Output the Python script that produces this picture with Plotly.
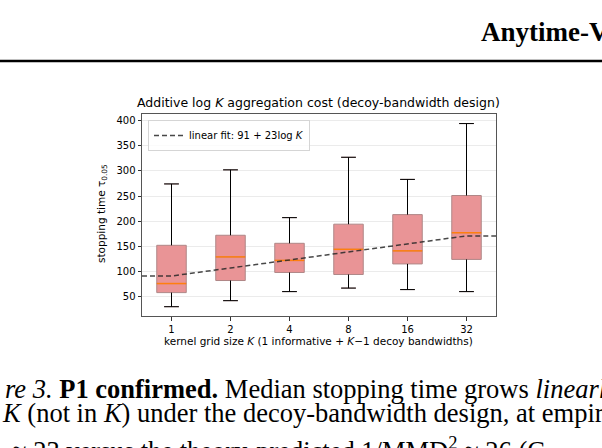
import numpy as np
import plotly.graph_objects as go

# kernel grid sizes and box stats
K = [1, 2, 4, 8, 16, 32]
whisker_lo = [30, 42, 60, 67, 64, 60]
q1 = [58, 82, 98, 94, 115, 124]
median = [76, 129, 122, 144, 141, 177]
q3 = [152, 172, 156, 194, 213, 251]
whisker_hi = [274, 302, 207, 327, 283, 394]

# linear fit in log K
fit_a = 91
fit_b = 23

pos = np.arange(len(K))

# pixel helpers (plot area 142..496 x 114..316)
L, R, T, B = 142, 106, 114, 132
W, H = 602, 448
pw, ph = W - L - R, H - T - B
def px(x):
    return (x - L) / pw
def py(y):
    return (H - B - y) / ph

fig = go.Figure()

fig.add_trace(go.Box(
    x=pos, q1=q1, median=median, q3=q3,
    lowerfence=whisker_lo, upperfence=whisker_hi,
    width=0.5, whiskerwidth=0.5,
    fillcolor="rgb(233,148,150)",
    line=dict(color="rgb(175,135,135)", width=1),
    boxpoints=False, showlegend=False, hoverinfo="skip",
))

# black whiskers + caps
wx, wy = [], []
for i in range(len(K)):
    wx += [pos[i], pos[i], None, pos[i], pos[i], None]
    wy += [q3[i], whisker_hi[i], None, q1[i], whisker_lo[i], None]
    wx += [pos[i] - 0.125, pos[i] + 0.125, None, pos[i] - 0.125, pos[i] + 0.125, None]
    wy += [whisker_hi[i], whisker_hi[i], None, whisker_lo[i], whisker_lo[i], None]
fig.add_trace(go.Scatter(x=wx, y=wy, mode="lines", line=dict(color="black", width=1),
                         showlegend=False, hoverinfo="skip"))

# orange medians
mx, my = [], []
for i in range(len(K)):
    mx += [pos[i] - 0.25, pos[i] + 0.25, None]
    my += [median[i], median[i], None]
fig.add_trace(go.Scatter(x=mx, y=my, mode="lines", line=dict(color="#ff7f0e", width=1.5),
                         showlegend=False, hoverinfo="skip"))

# fit line, held flat past the first and last K
K_ext = [K[0]] + K + [K[-1]]
x_fit = [pos[0] - 0.5] + list(pos) + [pos[-1] + 0.5]
y_fit = [fit_a + fit_b * np.log(k) for k in K_ext]
fig.add_trace(go.Scatter(x=x_fit, y=y_fit, mode="lines",
                         line=dict(color="rgba(40,40,40,0.85)", width=1.5, dash="5px,3px"),
                         name="linear fit: 91 + 23log <i>K</i>"))

font = "DejaVu Sans"
serif = "Liberation Serif"

fig.update_layout(
    width=W, height=H,
    margin=dict(l=L, r=R, t=T, b=B),
    paper_bgcolor="white", plot_bgcolor="white",
    font=dict(family=font, size=10, color="black"),
    xaxis=dict(range=[-0.5, 5.5], tickvals=pos, ticktext=[str(k) for k in K],
               showgrid=False, zeroline=False, showline=True, mirror=True,
               linecolor="#555", linewidth=1, ticks="outside", ticklen=3.5,
               tickcolor="#333", tickfont=dict(size=10)),
    yaxis=dict(range=[11.5, 413], tickvals=[50, 100, 150, 200, 250, 300, 350, 400],
               showgrid=True, gridcolor="#ebebeb", gridwidth=1, zeroline=False,
               showline=True, mirror=True, linecolor="#555", linewidth=1,
               ticks="outside", ticklen=3.5, tickcolor="#333", tickfont=dict(size=10)),
    legend=dict(x=px(148), y=py(120), xanchor="left", yanchor="top",
                bgcolor="rgba(255,255,255,0.8)", bordercolor="#d5d5d5", borderwidth=1,
                font=dict(size=10), itemwidth=30, tracegroupgap=0),
    showlegend=True,
)

ann = [
    dict(text="Additive log <i>K</i> aggregation cost (decoy-bandwidth design)",
         x=px(318), y=py(103), font=dict(size=12.5)),
    dict(text="stopping time τ<sub>0.05</sub>", x=px(102), y=py(214), textangle=-90,
         font=dict(size=10.5)),
    dict(text="kernel grid size <i>K</i> (1 informative + <i>K</i>−1 decoy bandwidths)",
         x=px(318), y=py(341), font=dict(size=10.5)),
    dict(text="<b>Anytime-Valid</b>", x=px(479), y=py(32), xanchor="left",
         font=dict(family=serif, size=27)),
    dict(text="<i>re 3.</i> <b>P1 confirmed.</b> Median stopping time grows <i>linearly</i> in",
         x=px(3), y=py(389), xanchor="left", font=dict(family=serif, size=26.5)),
    dict(text="<i>K</i> (not in <i>K</i>) under the decoy-bandwidth design, at empirical",
         x=px(0), y=py(413), xanchor="left", font=dict(family=serif, size=26.5)),
    dict(text="≈ 23 versus the theory-predicted 1/MMD<sup>2</sup> ≈ 26 (C",
         x=px(10), y=py(449), xanchor="left", font=dict(family=serif, size=26.5)),
]
for a in ann:
    a.setdefault("xanchor", "center")
    fig.add_annotation(xref="paper", yref="paper", showarrow=False, yanchor="middle", **a)

fig.add_shape(type="line", xref="paper", yref="paper", x0=px(-5), x1=px(610),
              y0=py(61), y1=py(61), line=dict(color="black", width=2.5))

fig.write_html("out.html", config={"displayModeBar": False},
               post_script="document.body.style.margin='0';")
